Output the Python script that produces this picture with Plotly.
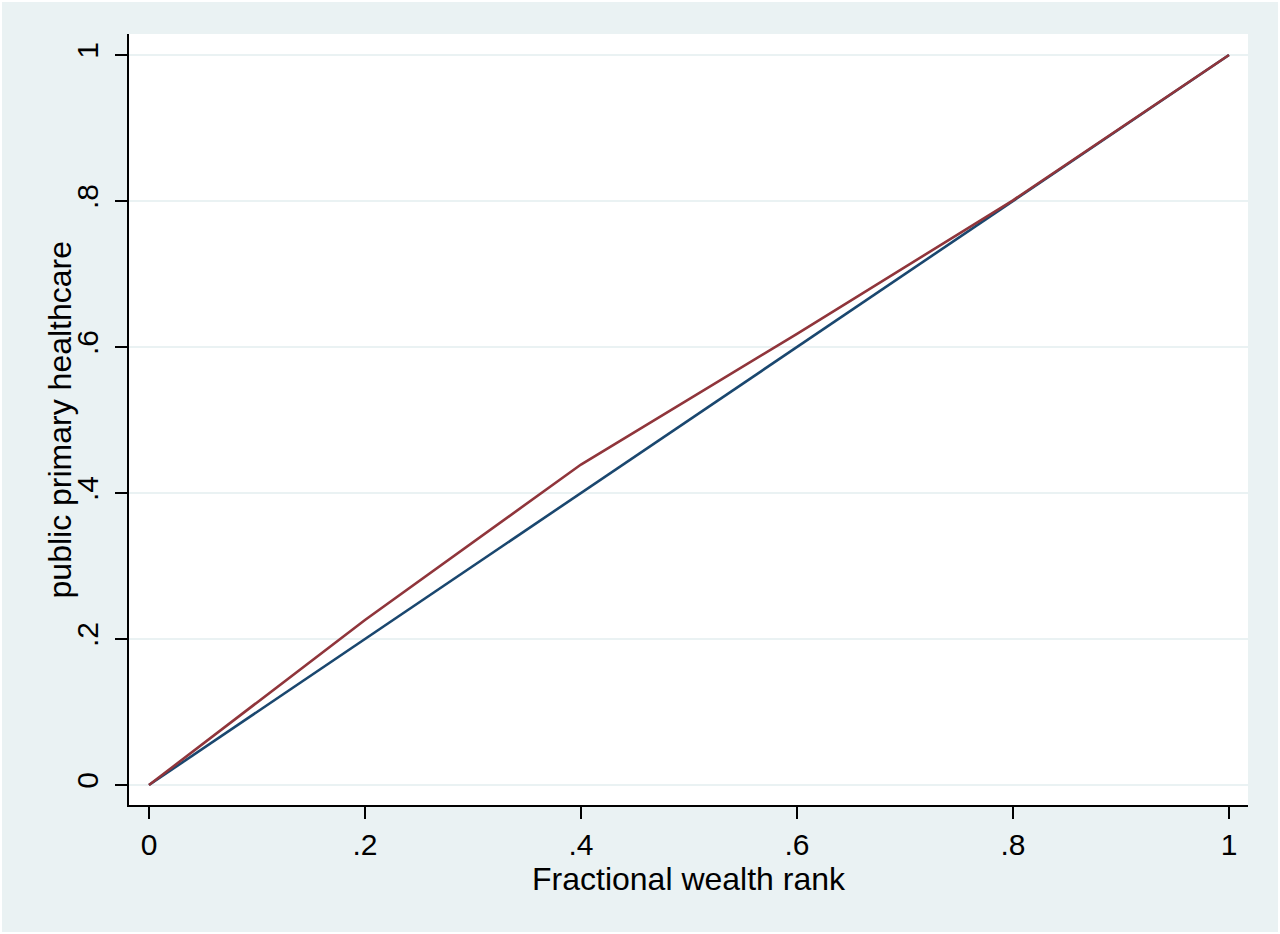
import plotly.graph_objects as go

# wealth rank and concentration curve values
rank = [0, 0.2, 0.4, 0.6, 0.8, 1.0]
equality = [0, 0.2, 0.4, 0.6, 0.8, 1.0]
healthcare = [0, 0.226, 0.439, 0.618, 0.801, 1.0]

x_ticks = [0, 0.2, 0.4, 0.6, 0.8, 1.0]
x_labels = ["0", ".2", ".4", ".6", ".8", "1"]
y_ticks = [0, 0.2, 0.4, 0.6, 0.8, 1.0]
y_labels = ["0", ".2", ".4", ".6", ".8", "1"]

BG = "#EAF2F3"
FONT = "Liberation Sans, Arial, sans-serif"

fig = go.Figure()
fig.add_trace(go.Scatter(x=rank, y=equality, mode="lines",
                         line=dict(color="#1A476F", width=2.6), showlegend=False))
fig.add_trace(go.Scatter(x=rank, y=healthcare, mode="lines",
                         line=dict(color="#90353B", width=2.6), showlegend=False))

# page has a thin white border, so the figure is 2px smaller on each side
fig.update_layout(
    width=1276, height=930,
    margin=dict(l=127, r=30, t=32, b=127),
    paper_bgcolor=BG, plot_bgcolor="white",
    font=dict(family=FONT, size=30, color="black"),
)

fig.update_xaxes(
    range=[-0.0185, 1.0176], tickvals=x_ticks, ticktext=x_labels,
    showgrid=False, zeroline=False,
    showline=True, linecolor="black", linewidth=2,
    ticks="outside", ticklen=12, tickwidth=2, tickcolor="black",
    title=dict(text="Fractional wealth rank", standoff=0, font=dict(size=32)),
)
fig.update_yaxes(
    range=[-0.0274, 1.0288], tickvals=y_ticks, ticktext=y_labels,
    tickangle=-90, ticklabelstandoff=5,
    showgrid=True, gridcolor=BG, gridwidth=2, zeroline=False,
    showline=True, linecolor="black", linewidth=2,
    ticks="outside", ticklen=12, tickwidth=2, tickcolor="black",
)

# y title placed by hand, it sits closer to the tick labels than plotly allows
fig.add_annotation(
    text="public primary healthcare", textangle=-90,
    xref="paper", yref="paper", x=-0.0617, y=0.5,
    xanchor="center", yanchor="middle", showarrow=False,
    font=dict(size=32),
)

fig.write_html("out.html", post_script="document.body.style.margin='2px';")
